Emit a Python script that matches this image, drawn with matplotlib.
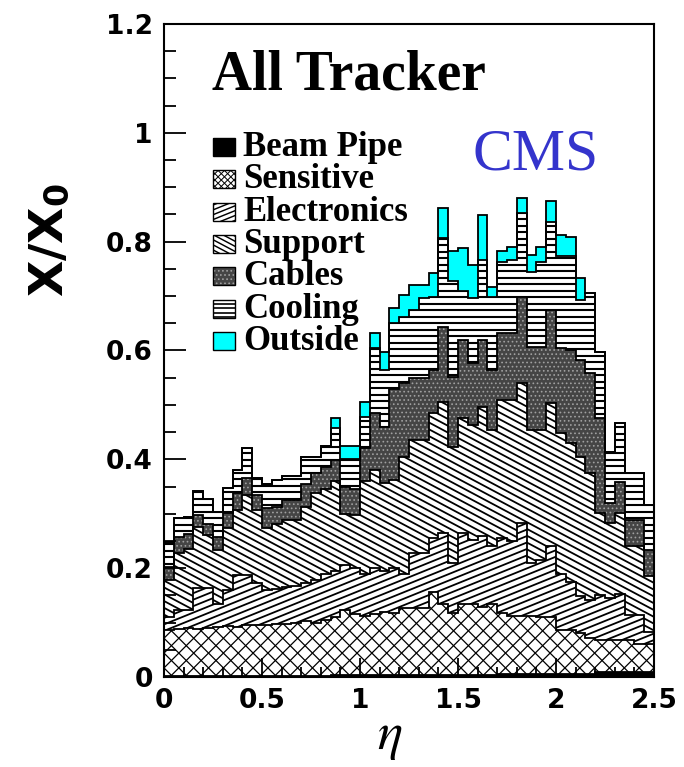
import numpy as np
import matplotlib
matplotlib.use("Agg")
import matplotlib.pyplot as plt
from matplotlib.collections import LineCollection
from matplotlib.patches import Rectangle
from matplotlib.ticker import MultipleLocator, FuncFormatter

# material budget per eta bin (0.05 wide), in units of X0
eta_edges = np.linspace(0.0, 2.5, 51)

beam_pipe = [0.002, 0.002, 0.002, 0.002, 0.002, 0.002, 0.002, 0.002, 0.002, 0.002,
             0.002, 0.002, 0.002, 0.002, 0.002, 0.002, 0.002, 0.004, 0.004, 0.004,
             0.004, 0.004, 0.004, 0.004, 0.004, 0.004, 0.004, 0.004, 0.004, 0.004,
             0.004, 0.004, 0.004, 0.004, 0.006, 0.006, 0.006, 0.006, 0.006, 0.006,
             0.006, 0.006, 0.006, 0.006, 0.010, 0.010, 0.010, 0.010, 0.010, 0.010]
sensitive = [0.084, 0.086, 0.088, 0.086, 0.088, 0.090, 0.091, 0.090, 0.093, 0.093,
             0.094, 0.096, 0.095, 0.098, 0.100, 0.098, 0.103, 0.106, 0.119, 0.111,
             0.108, 0.111, 0.116, 0.114, 0.123, 0.123, 0.123, 0.153, 0.130, 0.113,
             0.130, 0.130, 0.124, 0.130, 0.111, 0.106, 0.106, 0.106, 0.104, 0.104,
             0.080, 0.080, 0.074, 0.066, 0.058, 0.058, 0.058, 0.058, 0.051, 0.050]
electronics = [0.024, 0.035, 0.033, 0.075, 0.073, 0.042, 0.067, 0.095, 0.092, 0.077,
               0.064, 0.064, 0.068, 0.068, 0.070, 0.078, 0.085, 0.085, 0.082, 0.085,
               0.078, 0.085, 0.075, 0.082, 0.063, 0.101, 0.101, 0.098, 0.131, 0.093,
               0.130, 0.118, 0.131, 0.106, 0.138, 0.138, 0.171, 0.098, 0.105, 0.130,
               0.104, 0.089, 0.068, 0.070, 0.082, 0.077, 0.085, 0.046, 0.053, 0.023]
support = [0.068, 0.104, 0.112, 0.113, 0.098, 0.099, 0.114, 0.120, 0.147, 0.135,
           0.114, 0.120, 0.124, 0.121, 0.141, 0.160, 0.155, 0.165, 0.095, 0.098,
           0.170, 0.180, 0.161, 0.162, 0.215, 0.208, 0.208, 0.230, 0.241, 0.213,
           0.212, 0.211, 0.238, 0.214, 0.254, 0.259, 0.257, 0.244, 0.239, 0.263,
           0.258, 0.255, 0.257, 0.232, 0.151, 0.138, 0.148, 0.126, 0.126, 0.102]
cables = [0.025, 0.031, 0.027, 0.022, 0.021, 0.025, 0.027, 0.031, 0.031, 0.027,
          0.036, 0.031, 0.036, 0.036, 0.042, 0.037, 0.040, 0.039, 0.050, 0.047,
          0.060, 0.105, 0.104, 0.168, 0.135, 0.114, 0.114, 0.080, 0.138, 0.129,
          0.144, 0.114, 0.123, 0.111, 0.123, 0.123, 0.159, 0.153, 0.153, 0.172,
          0.156, 0.171, 0.178, 0.184, 0.175, 0.037, 0.058, 0.049, 0.049, 0.049]
cooling = [0.046, 0.034, 0.032, 0.043, 0.046, 0.046, 0.046, 0.042, 0.055, 0.031,
           0.045, 0.049, 0.045, 0.045, 0.050, 0.030, 0.039, 0.059, 0.050, 0.055,
           0.058, 0.119, 0.104, 0.120, 0.122, 0.124, 0.146, 0.134, 0.162, 0.175,
           0.090, 0.119, 0.147, 0.134, 0.131, 0.135, 0.153, 0.138, 0.156, 0.162,
           0.169, 0.172, 0.110, 0.147, 0.122, 0.094, 0.107, 0.085, 0.085, 0.082]
outside = [0.000, 0.000, 0.000, 0.000, 0.000, 0.000, 0.000, 0.000, 0.000, 0.000,
           0.000, 0.000, 0.000, 0.000, 0.000, 0.000, 0.000, 0.018, 0.024, 0.024,
           0.028, 0.028, 0.034, 0.028, 0.040, 0.046, 0.024, 0.043, 0.055, 0.055,
           0.078, 0.061, 0.082, 0.018, 0.019, 0.024, 0.028, 0.031, 0.028, 0.037,
           0.040, 0.036, 0.040, 0.000, 0.000, 0.000, 0.000, 0.000, 0.000, 0.000]

layer_names = ['Beam Pipe', 'Sensitive', 'Electronics', 'Support',
               'Cables', 'Cooling', 'Outside']
layer_values = [beam_pipe, sensitive, electronics, support, cables, cooling, outside]

# fill colour, hatch lines (angle deg, spacing px, width pt), dotted
styles = [
    {'fc': 'black', 'lines': [], 'dots': False},
    {'fc': 'white', 'lines': [(45, 10.5, 0.9), (-45, 10.5, 0.9)], 'dots': False},
    {'fc': 'white', 'lines': [(22, 6.0, 1.3)], 'dots': False},
    {'fc': 'white', 'lines': [(-28, 6.0, 1.3)], 'dots': False},
    {'fc': '#454545', 'lines': [], 'dots': True},
    {'fc': 'white', 'lines': [(0, 6.5, 1.5)], 'dots': False},
    {'fc': '#00ffff', 'lines': [], 'dots': False},
]


def line_hatch(ax, clip, angle, spacing, lw, z):
    # parallel lines across the axes, clipped to a patch
    w, h = ax.bbox.width, ax.bbox.height
    t = np.deg2rad(angle)
    d = np.array([np.cos(t), np.sin(t)])
    n = np.array([-np.sin(t), np.cos(t)])
    mid = np.array([w / 2, h / 2])
    half = np.hypot(w, h) / 2 + spacing
    segs = []
    for c in np.arange(-half, half, spacing):
        p = mid + c * n
        segs.append([(p - half * d) / [w, h], (p + half * d) / [w, h]])
    lc = LineCollection(segs, colors='black', linewidths=lw,
                        transform=ax.transAxes, zorder=z)
    ax.add_collection(lc, autolim=False)
    lc.set_clip_path(clip)


def fill_style(patch, st):
    if st['dots']:
        patch.set_hatch('....')
        patch.set_edgecolor('#a0a0a0')
        if hasattr(patch, 'set_hatch_linewidth'):
            patch.set_hatch_linewidth(0.7)


fig = plt.figure(figsize=(6.84, 7.67), dpi=100)
ax = fig.add_axes([164 / 684, 90 / 767, 490 / 684, 653 / 767])
ax.set_xlim(0, 2.5)
ax.set_ylim(0, 1.2)

base = np.zeros(len(eta_edges) - 1)
tops = []
for vals, st in zip(layer_values, styles):
    top = base + np.asarray(vals)
    patch = ax.stairs(top, eta_edges, baseline=base, fill=True,
                      facecolor=st['fc'], edgecolor='none', linewidth=0, zorder=1)
    fill_style(patch, st)
    for ang, sp, lw in st['lines']:
        line_hatch(ax, patch, ang, sp, lw, 1.5)
    tops.append(top)
    base = top

for top in tops:
    ax.stairs(top, eta_edges, baseline=None, color='black', linewidth=1.3, zorder=3)

# legend drawn by hand, ROOT style
for i, (name, st) in enumerate(zip(layer_names, styles)):
    yb = 147 + 32.3 * i + 9
    x0, y0 = (213 - 164) / 490, (677 - yb) / 653
    w, h = 22 / 490, 18 / 653
    box = Rectangle((x0, y0), w, h, transform=ax.transAxes,
                    facecolor=st['fc'], edgecolor='none', linewidth=0, zorder=5)
    ax.add_patch(box)
    fill_style(box, st)
    for ang, sp, lw in st['lines']:
        line_hatch(ax, box, ang, 4.5 if ang else sp * 0.7, lw * 0.8, 5.5)
    ax.add_patch(Rectangle((x0, y0), w, h, transform=ax.transAxes,
                           facecolor='none', edgecolor='black', linewidth=1.0, zorder=6))
    ax.text((243 - 164) / 490, y0, name, transform=ax.transAxes,
            fontfamily='Liberation Serif', fontweight='bold', fontsize=25,
            ha='left', va='baseline', zorder=6)

ax.text((212 - 164) / 490, (677 - 90) / 653, 'All Tracker', transform=ax.transAxes,
        fontfamily='Liberation Serif', fontweight='bold', fontsize=40,
        ha='left', va='baseline', zorder=6)
ax.text((472 - 164) / 490, (677 - 169) / 653, 'CMS', transform=ax.transAxes,
        fontfamily='Liberation Serif', fontsize=43, color='#3434cc',
        ha='left', va='baseline', zorder=6)

# axes, ticks
ax.xaxis.set_major_locator(MultipleLocator(0.5))
ax.xaxis.set_minor_locator(MultipleLocator(0.1))
ax.yaxis.set_major_locator(MultipleLocator(0.2))
ax.yaxis.set_minor_locator(MultipleLocator(0.05))
fmt = FuncFormatter(lambda v, p: f'{v:g}')
ax.xaxis.set_major_formatter(fmt)
ax.yaxis.set_major_formatter(fmt)
ax.tick_params(which='both', direction='in', top=False, right=False, width=1.3)
ax.tick_params(axis='y', which='major', length=16, pad=8, labelsize=19)
ax.tick_params(axis='y', which='minor', length=8.5)
ax.tick_params(axis='x', which='major', length=14, pad=8, labelsize=19)
ax.tick_params(axis='x', which='minor', length=7)
for lbl in ax.get_xticklabels() + ax.get_yticklabels():
    lbl.set_fontweight('bold')
for sp in ax.spines.values():
    sp.set_linewidth(1.5)
    sp.set_zorder(7)

plt.rcParams['mathtext.fontset'] = 'stix'
fig.text(50 / 684, 1 - 240 / 767, r'X/X$_\mathregular{0}$', rotation=90,
         fontsize=34, fontweight='bold', ha='center', va='center')
fig.text(390 / 684, 1 - 736 / 767, r'$\eta$', fontsize=38, ha='center', va='center')

fig.savefig('out.png', dpi=100)
